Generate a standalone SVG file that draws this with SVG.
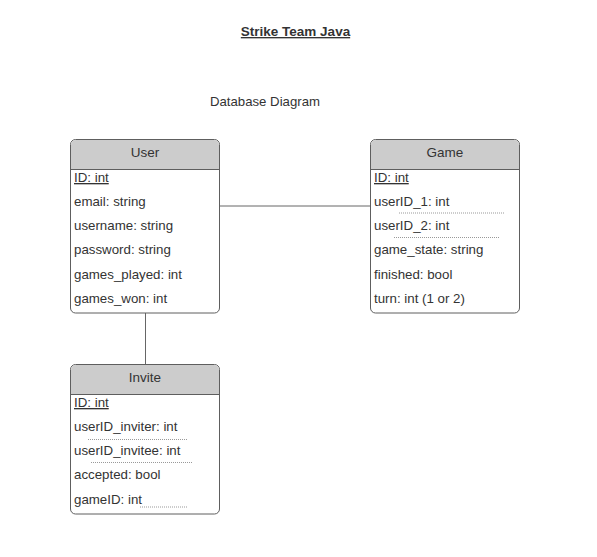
<svg xmlns="http://www.w3.org/2000/svg" width="597" height="557" viewBox="0 0 597 557">
<style>
text{font-family:"Liberation Sans",Arial,sans-serif;fill:#333}
.row{font-size:13.3px}
.hdr{font-size:13.5px;text-anchor:middle}
.box{fill:#fff;stroke:#5e5e5e;stroke-width:1}
.head{fill:#cccccc;stroke:none}
.sep{stroke:#5e5e5e;stroke-width:1}
.dot{stroke:#999;stroke-width:1;stroke-dasharray:1 1}
.conn{stroke:#666;stroke-width:1;fill:none}
</style>
<rect width="597" height="557" fill="#fff"/>
<text x="295.5" y="36" font-size="13.5" font-weight="bold" text-anchor="middle" text-decoration="underline">Strike Team Java</text>
<text x="210" y="106" font-size="13.2">Database Diagram</text>
<g id="connectors">
<line class="conn" x1="219.5" y1="206" x2="370.5" y2="206"/>
<line class="conn" x1="145.5" y1="313" x2="145.5" y2="364"/>
</g>
<g id="user">
<rect class="box" x="70.5" y="139.5" width="149" height="173.5" rx="5"/>
<path class="head" d="M71,169 V145 a5,5 0 0 1 5,-5 H214 a5,5 0 0 1 5,5 V169 Z"/>
<line class="sep" x1="70.5" y1="169.5" x2="219.5" y2="169.5"/>
<text class="hdr" x="145" y="157">User</text>
<text class="row" x="74" y="182" text-decoration="underline">ID: int</text>
<text class="row" x="74" y="206">email: string</text>
<text class="row" x="74" y="230">username: string</text>
<text class="row" x="74" y="254">password: string</text>
<text class="row" x="74" y="279">games_played: int</text>
<text class="row" x="74" y="303">games_won: int</text>
</g>
<g id="game">
<rect class="box" x="370.5" y="139.5" width="149" height="173.5" rx="5"/>
<path class="head" d="M371,169 V145 a5,5 0 0 1 5,-5 H514 a5,5 0 0 1 5,5 V169 Z"/>
<line class="sep" x1="370.5" y1="169.5" x2="519.5" y2="169.5"/>
<text class="hdr" x="445" y="157">Game</text>
<text class="row" x="374" y="182" text-decoration="underline">ID: int</text>
<text class="row" x="374" y="206">userID_1: int</text>
<line class="dot" x1="399" y1="213" x2="504" y2="213"/>
<text class="row" x="374" y="230">userID_2: int</text>
<line class="dot" x1="394" y1="237.5" x2="499" y2="237.5"/>
<text class="row" x="374" y="254">game_state: string</text>
<text class="row" x="374" y="279">finished: bool</text>
<text class="row" x="374" y="303">turn: int (1 or 2)</text>
</g>
<g id="invite">
<rect class="box" x="70.5" y="364.5" width="149" height="149.5" rx="5"/>
<path class="head" d="M71,394 V370 a5,5 0 0 1 5,-5 H214 a5,5 0 0 1 5,5 V394 Z"/>
<line class="sep" x1="70.5" y1="394.5" x2="219.5" y2="394.5"/>
<text class="hdr" x="145" y="382">Invite</text>
<text class="row" x="74" y="407" text-decoration="underline">ID: int</text>
<text class="row" x="74" y="431">userID_inviter: int</text>
<line class="dot" x1="88" y1="439.5" x2="188" y2="439.5"/>
<text class="row" x="74" y="455">userID_invitee: int</text>
<line class="dot" x1="91" y1="462.5" x2="192" y2="462.5"/>
<text class="row" x="74" y="479">accepted: bool</text>
<text class="row" x="74" y="504">gameID: int</text>
<line class="dot" x1="140" y1="507" x2="188" y2="507"/>
</g>
</svg>
